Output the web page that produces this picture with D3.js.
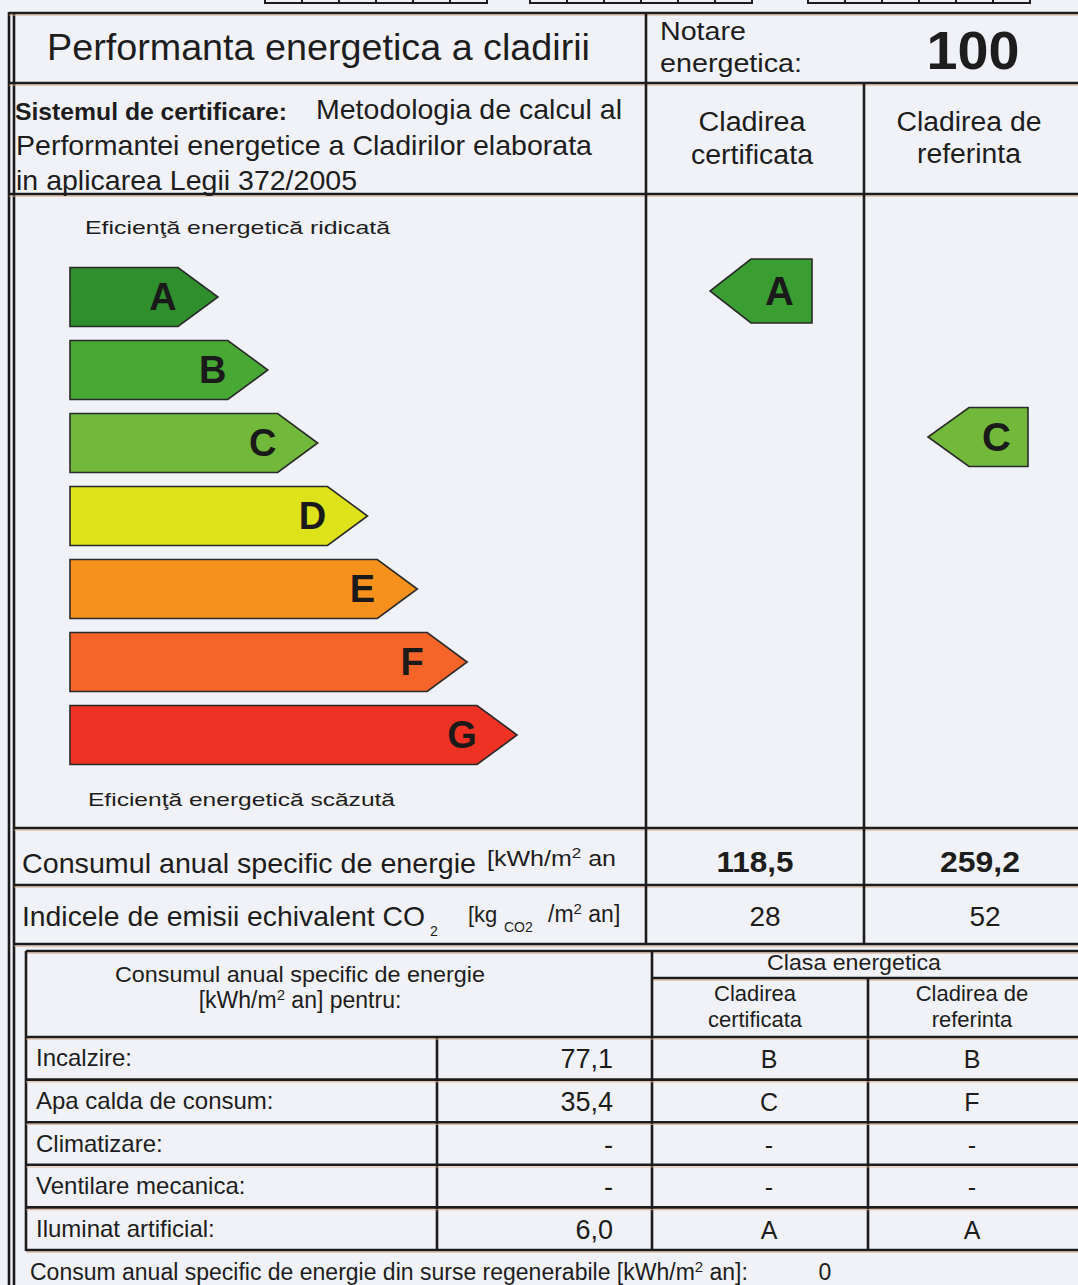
<!DOCTYPE html>
<html>
<head>
<meta charset="utf-8">
<script src="https://cdn.jsdelivr.net/npm/d3@7"></script>
<style>
  body { margin: 0; background: #f1f2f7; }
  svg { display: block; font-family: "Liberation Sans", Arial, sans-serif; }
  .rule { stroke: #1c1c1c; stroke-width: 2.6; fill: none; }
  .rule-tint { stroke: #d9a57e; stroke-width: 1.2; opacity: 0.7; }
  .cls-arrow { stroke: #2a2a2a; stroke-width: 1.6; }
</style>
</head>
<body>
<svg id="chart" width="1078" height="1285"></svg>
<script>
var classes = ["A", "B", "C", "D", "E", "F", "G"];
var notareEnergetica = 100;
var clasaCertificata = "A";
var clasaReferinta = "C";
var consumTotal = [118.5, 259.2];          // [certificata, referinta]
var emisiiCO2 = [28, 52];
var utilizari = ["Incalzire:", "Apa calda de consum:", "Climatizare:", "Ventilare mecanica:", "Iluminat artificial:"];
var consumUtilizari = [77.1, 35.4, null, null, 6.0];
var clasaUtilizariCert = ["B", "C", "-", "-", "A"];
var clasaUtilizariRef = ["B", "F", "-", "-", "A"];
var consumRegenerabil = 0;

class CertificateChart {
  render(targetElementSelector) {
    var svg = d3.select(targetElementSelector),
        W = 1078,
        ink = "#1d1d1d";

    var fmt = function(v) { return v == null ? "-" : d3.format(".1f")(v).replace(".", ","); };

    var color = d3.scaleOrdinal()
      .domain(classes)
      .range(["#2e8f2c", "#47a934", "#72b93b", "#dde21b", "#f7911d", "#f5652a", "#ee3224"]);

    svg.append("rect").attr("width", W).attr("height", 1285).attr("fill", "#f1f2f7");

    var lines = svg.append("g"),
        texts = svg.append("g");

    function hline(y, x1, x2) {
      lines.append("line").attr("class", "rule-tint").attr("x1", x1).attr("x2", x2).attr("y1", y + 2.2).attr("y2", y + 2.2);
      lines.append("line").attr("class", "rule").attr("x1", x1).attr("x2", x2).attr("y1", y).attr("y2", y);
    }
    function vline(x, y1, y2) {
      lines.append("line").attr("class", "rule").attr("x1", x).attr("x2", x).attr("y1", y1).attr("y2", y2);
    }
    function label(x, y, str, o) {
      o = o || {};
      var t = texts.append("text")
        .attr("x", x).attr("y", y)
        .attr("font-size", o.size || 24)
        .attr("font-weight", o.weight || "normal")
        .attr("text-anchor", o.anchor || "start")
        .attr("fill", ink)
        .text(str);
      if (o.width) t.attr("textLength", o.width).attr("lengthAdjust", "spacingAndGlyphs");
      return t;
    }
    // append a superscript "2" and the rest of the unit to a label
    function sup(t, rest, size, rise) {
      t.append("tspan").attr("dy", -rise).attr("font-size", size).text("2");
      t.append("tspan").attr("dy", rise).text(rest);
      return t;
    }

    // little code boxes cut off at the top edge
    [265, 530, 808].forEach(function(x0) {
      d3.range(6).forEach(function(i) {
        lines.append("rect").attr("x", x0 + i * 37).attr("y", -20).attr("width", 37).attr("height", 23)
          .attr("fill", "none").attr("stroke", ink).attr("stroke-width", 2);
      });
    });

    // frame
    vline(9, 12, 1285);
    vline(14, 12, 1285);
    hline(13, 9, W);
    hline(83, 9, W);
    hline(194, 9, W);
    hline(828, 14, W);
    hline(885, 14, W);
    hline(944, 14, W);
    vline(646, 13, 944);
    vline(864, 83, 944);

    // row 1
    label(47, 60, "Performanta energetica a cladirii", {size: 36, width: 543});
    label(660, 40, "Notare", {size: 26, width: 86});
    label(660, 72, "energetica:", {size: 26, width: 142});
    label(973, 69, notareEnergetica, {size: 54, weight: "bold", anchor: "middle", width: 93});

    // row 2
    label(15, 120, "Sistemul de certificare:", {size: 24, weight: "bold", width: 272});
    label(316, 119, "Metodologia de calcul al", {size: 28, width: 306});
    label(16, 155, "Performantei energetice a Cladirilor elaborata", {size: 28, width: 576});
    label(16, 190, "in aplicarea Legii 372/2005", {size: 28, width: 341});
    label(752, 131, "Cladirea", {size: 27, anchor: "middle", width: 107});
    label(752, 164, "certificata", {size: 27, anchor: "middle", width: 122});
    label(969, 131, "Cladirea de", {size: 27, anchor: "middle", width: 145});
    label(969, 163, "referinta", {size: 27, anchor: "middle", width: 104});

    // energy class scale
    var y = d3.scalePoint().domain(classes).range([297, 735]);
    var xTip = d3.scaleLinear().domain([0, classes.length - 1]).range([218, 517]);
    var barH = 59, depth = 40, x0 = 70;

    label(85, 234, "Eficienţă energetică ridicată", {size: 19, width: 305});
    label(88, 806, "Eficienţă energetică scăzută", {size: 19, width: 307});

    var bars = svg.append("g").selectAll("g")
      .data(classes)
      .enter().append("g");

    bars.append("path")
      .attr("class", "cls-arrow")
      .attr("fill", function(d) { return color(d) })
      .attr("d", function(d, i) {
        var t = xTip(i), c = y(d), top = c - barH / 2, bot = c + barH / 2;
        return "M" + [x0, top] + "L" + [t - depth, top] + "L" + [t, c] + "L" + [t - depth, bot] + "L" + [x0, bot] + "Z";
      });

    bars.append("text")
      .attr("x", function(d, i) { return xTip(i) - 55 })
      .attr("y", function(d) { return y(d) + 13 })
      .attr("text-anchor", "middle")
      .attr("font-size", 38)
      .attr("font-weight", "bold")
      .attr("fill", "#1a1a1a")
      .text(function(d) { return d });

    // pointers for the certified and reference building
    function pointer(cls, tip, right, h) {
      var c = y(cls) - 6, top = c - h / 2, bot = c + h / 2, notch = tip + 41;
      svg.append("path")
        .attr("class", "cls-arrow")
        .attr("fill", cls === "A" ? "#3a9e33" : color(cls))
        .attr("d", "M" + [right, top] + "L" + [notch, top] + "L" + [tip, c] + "L" + [notch, bot] + "L" + [right, bot] + "Z");
      svg.append("text")
        .attr("x", (notch + right) / 2 - 2)
        .attr("y", c + 14)
        .attr("text-anchor", "middle")
        .attr("font-size", 40)
        .attr("font-weight", "bold")
        .attr("fill", "#1a1a1a")
        .text(cls);
    }
    pointer(clasaCertificata, 710, 812, 64);
    pointer(clasaReferinta, 928, 1028, 59);

    // totals
    label(22, 873, "Consumul anual specific de energie", {size: 28, width: 454});
    sup(label(487, 866, "[kWh/m", {size: 22, width: 129}), " an", 15, 8);
    label(755, 872, fmt(consumTotal[0]), {size: 30, weight: "bold", anchor: "middle", width: 77});
    label(980, 872, fmt(consumTotal[1]), {size: 30, weight: "bold", anchor: "middle", width: 80});

    label(22, 926, "Indicele de emisii echivalent CO", {size: 28, width: 403});
    label(430, 936, "2", {size: 14});
    label(468, 922, "[kg", {size: 22});
    label(504, 932, "CO2", {size: 14});
    sup(label(548, 922, "/m", {size: 23}), " an]", 15, 8);
    label(765, 926, emisiiCO2[0], {size: 28, anchor: "middle"});
    label(985, 926, emisiiCO2[1], {size: 28, anchor: "middle"});

    // breakdown table
    var row = d3.scaleBand().domain(utilizari).range([1037, 1250]);
    var colLeft = 26, colVal = 437, colCert = 652, colRef = 868;

    hline(951, colLeft, W);
    hline(978, colCert, W);
    vline(colLeft, 951, 1251);
    vline(colCert, 951, 1251);
    vline(colRef, 978, 1251);
    vline(colVal, row.range()[0], 1251);
    utilizari.forEach(function(u) { hline(row(u), colLeft, W) });
    hline(row.range()[1], colLeft, W);

    label(300, 982, "Consumul anual specific de energie", {size: 22, anchor: "middle", width: 370});
    sup(label(300, 1008, "[kWh/m", {size: 23, anchor: "middle"}), " an] pentru:", 15, 8);
    label(854, 970, "Clasa energetica", {size: 22, anchor: "middle", width: 174});
    label(755, 1001, "Cladirea", {size: 22, anchor: "middle"});
    label(755, 1027, "certificata", {size: 22, anchor: "middle"});
    label(972, 1001, "Cladirea de", {size: 22, anchor: "middle"});
    label(972, 1027, "referinta", {size: 22, anchor: "middle"});

    var rows = texts.selectAll(".use-row")
      .data(utilizari)
      .enter().append("g")
        .attr("class", "use-row")
        .attr("transform", function(d) { return "translate(0," + (row(d) + row.bandwidth() / 2) + ")" });

    rows.append("text").attr("x", 36).attr("y", 8).attr("font-size", 24).attr("fill", ink)
      .text(function(d) { return d });
    rows.append("text").attr("x", 613).attr("y", 10).attr("font-size", 27).attr("text-anchor", "end").attr("fill", ink)
      .text(function(d, i) { return fmt(consumUtilizari[i]) });
    rows.append("text").attr("x", 769).attr("y", 10).attr("font-size", 25).attr("text-anchor", "middle").attr("fill", ink)
      .text(function(d, i) { return clasaUtilizariCert[i] });
    rows.append("text").attr("x", 972).attr("y", 10).attr("font-size", 25).attr("text-anchor", "middle").attr("fill", ink)
      .text(function(d, i) { return clasaUtilizariRef[i] });

    // renewable footer
    sup(label(30, 1280, "Consum anual specific de energie din surse regenerabile [kWh/m", {size: 23}), "  an]:", 15, 8);
    label(825, 1280, consumRegenerabil, {size: 23, anchor: "middle"});
  }
}

new CertificateChart().render("#chart");
</script>
</body>
</html>
